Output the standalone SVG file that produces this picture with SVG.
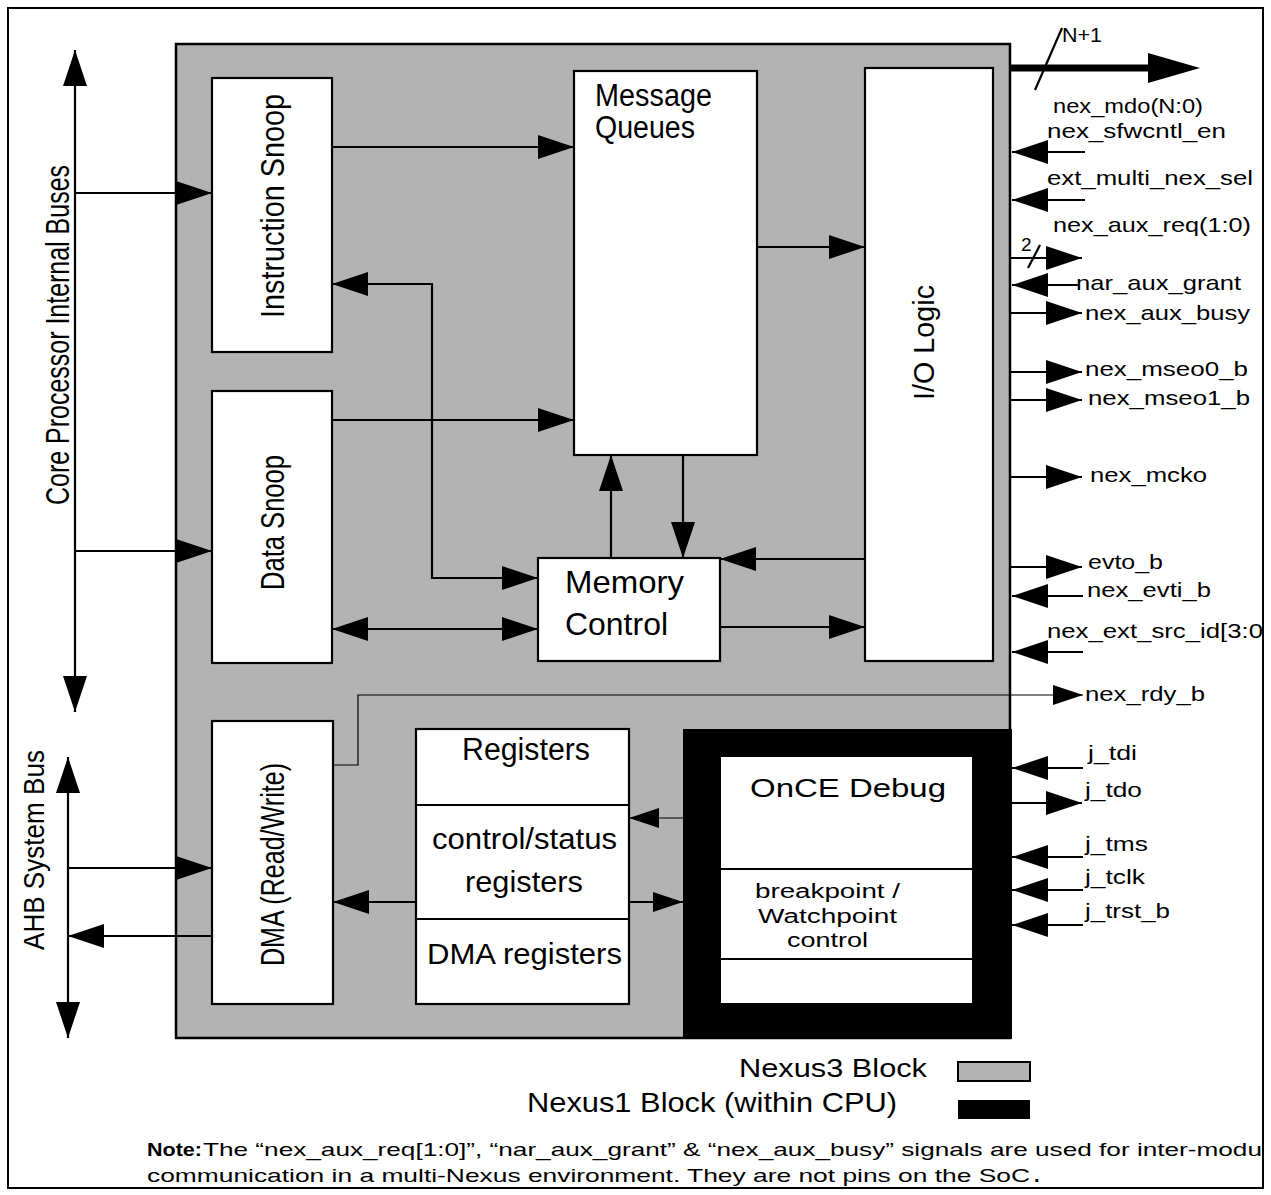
<svg xmlns="http://www.w3.org/2000/svg" width="1271" height="1195" viewBox="0 0 1271 1195">
<style>
text{font-family:"Liberation Sans",Arial,Helvetica,sans-serif;fill:#000}
.box{fill:#fff;stroke:#000;stroke-width:2.2}
.c{fill:none;stroke:#000;stroke-width:2.2}
.t{fill:none;stroke:#000;stroke-width:1.2}
.sig{font-size:21px}
</style>
<defs>
<marker id="ah" viewBox="0 0 36 24" refX="36" refY="12" markerWidth="36" markerHeight="24" markerUnits="userSpaceOnUse" orient="auto-start-reverse"><path d="M0,0 L36,12 L0,24 z" fill="#000"/></marker>
<marker id="ahs" viewBox="0 0 30 20" refX="30" refY="10" markerWidth="30" markerHeight="20" markerUnits="userSpaceOnUse" orient="auto-start-reverse"><path d="M0,0 L30,10 L0,20 z" fill="#000"/></marker>
</defs>
<rect x="8" y="8" width="1255" height="1180" fill="#fff" stroke="#000" stroke-width="2"/>
<g id="nexus3-block"><rect x="176" y="44" width="834" height="994" fill="#b3b3b3" stroke="#000" stroke-width="2.5"/></g>
<g id="nexus1-block"><rect x="683" y="729" width="329" height="310" fill="#000"/></g>
<g id="instruction-snoop"><rect class="box" x="212" y="78" width="120" height="274"/>
<text transform="translate(284,318) rotate(-90)" font-size="33" textLength="224" lengthAdjust="spacingAndGlyphs">Instruction Snoop</text></g>
<g id="data-snoop"><rect class="box" x="212" y="391" width="120" height="272"/>
<text transform="translate(284,590) rotate(-90)" font-size="33" textLength="135" lengthAdjust="spacingAndGlyphs">Data Snoop</text></g>
<g id="dma"><rect class="box" x="212" y="721" width="121" height="283"/>
<text transform="translate(284,966) rotate(-90)" font-size="33" textLength="203" lengthAdjust="spacingAndGlyphs">DMA (Read/Write)</text></g>
<g id="message-queues"><rect class="box" x="574" y="71" width="183" height="384"/>
<text x="595" y="106" font-size="31" textLength="117" lengthAdjust="spacingAndGlyphs">Message</text>
<text x="595" y="138" font-size="31" textLength="100" lengthAdjust="spacingAndGlyphs">Queues</text></g>
<g id="io-logic"><rect class="box" x="865" y="68" width="128" height="593"/>
<text transform="translate(934,400) rotate(-90)" font-size="30" textLength="115" lengthAdjust="spacingAndGlyphs">I/O Logic</text></g>
<g id="memory-control"><rect class="box" x="538" y="558" width="182" height="103"/>
<text x="565" y="593" font-size="32" textLength="119" lengthAdjust="spacingAndGlyphs">Memory</text>
<text x="565" y="635" font-size="32" textLength="103" lengthAdjust="spacingAndGlyphs">Control</text></g>
<g id="registers"><rect class="box" x="416" y="729" width="213" height="275"/>
<line class="c" x1="416" y1="805" x2="629" y2="805"/><line class="c" x1="416" y1="919" x2="629" y2="919"/>
<text x="462" y="760" font-size="31" textLength="128" lengthAdjust="spacingAndGlyphs">Registers</text>
<text x="432" y="849" font-size="30" textLength="185" lengthAdjust="spacingAndGlyphs">control/status</text>
<text x="465" y="892" font-size="30" textLength="118" lengthAdjust="spacingAndGlyphs">registers</text>
<text x="427" y="964" font-size="30" textLength="195" lengthAdjust="spacingAndGlyphs">DMA registers</text></g>
<g id="once-debug"><rect x="721" y="757" width="251" height="246" fill="#fff"/>
<line class="c" x1="721" y1="869" x2="972" y2="869"/><line class="c" x1="721" y1="959" x2="972" y2="959"/>
<text x="750" y="797" font-size="25" textLength="196" lengthAdjust="spacingAndGlyphs">OnCE Debug</text>
<text x="755" y="898" font-size="20" textLength="145" lengthAdjust="spacingAndGlyphs">breakpoint /</text>
<text x="758" y="923" font-size="20" textLength="139" lengthAdjust="spacingAndGlyphs">Watchpoint</text>
<text x="787" y="947" font-size="20" textLength="81" lengthAdjust="spacingAndGlyphs">control</text></g>
<g id="connectors">
<line class="c" x1="75" y1="50" x2="75" y2="712" marker-start="url(#ah)" marker-end="url(#ah)"/>
<line class="c" x1="75" y1="193" x2="212" y2="193" marker-end="url(#ah)"/>
<line class="c" x1="75" y1="551" x2="212" y2="551" marker-end="url(#ah)"/>
<line class="c" x1="68" y1="757" x2="68" y2="1038" marker-start="url(#ah)" marker-end="url(#ah)"/>
<line class="c" x1="68" y1="868" x2="212" y2="868" marker-end="url(#ah)"/>
<line class="c" x1="212" y1="936" x2="68" y2="936" marker-end="url(#ah)"/>
<line class="c" x1="332" y1="147" x2="574" y2="147" marker-end="url(#ah)"/>
<line class="c" x1="332" y1="420" x2="574" y2="420" marker-end="url(#ah)"/>
<path class="c" d="M332,284 H432 V578 H538" marker-start="url(#ah)" marker-end="url(#ah)"/>
<line class="c" x1="332" y1="629" x2="538" y2="629" marker-start="url(#ah)" marker-end="url(#ah)"/>
<line class="c" x1="611" y1="558" x2="611" y2="455" marker-end="url(#ah)"/>
<line class="c" x1="683" y1="455" x2="683" y2="558" marker-end="url(#ah)"/>
<line class="c" x1="757" y1="247" x2="865" y2="247" marker-end="url(#ah)"/>
<line class="c" x1="865" y1="559" x2="720" y2="559" marker-end="url(#ah)"/>
<line class="c" x1="720" y1="627" x2="865" y2="627" marker-end="url(#ah)"/>
<line class="c" x1="416" y1="902" x2="333" y2="902" marker-end="url(#ah)"/>
<line class="c" x1="629" y1="902" x2="683" y2="902" marker-end="url(#ahs)"/>
<line class="t" x1="683" y1="818" x2="629" y2="818" marker-end="url(#ahs)"/>
<path class="t" d="M333,765 H358 V695 H1083" marker-end="url(#ahs)"/>
<line x1="1010" y1="68" x2="1150" y2="68" stroke="#000" stroke-width="7"/>
<polygon points="1148,53 1200,68 1148,83" fill="#000"/>
<line class="c" x1="1035" y1="90" x2="1062" y2="28" stroke-width="1.8"/>
<line class="c" x1="1085" y1="152" x2="1012" y2="152" marker-end="url(#ah)"/>
<line class="c" x1="1085" y1="200" x2="1012" y2="200" marker-end="url(#ah)"/>
<line class="c" x1="1010" y1="258" x2="1082" y2="258" marker-end="url(#ah)"/>
<line class="c" x1="1028" y1="268" x2="1040" y2="245" stroke-width="1.8"/>
<line class="c" x1="1080" y1="285" x2="1012" y2="285" marker-end="url(#ah)"/>
<line class="c" x1="1010" y1="313" x2="1082" y2="313" marker-end="url(#ah)"/>
<line class="c" x1="1010" y1="372" x2="1082" y2="372" marker-end="url(#ah)"/>
<line class="c" x1="1010" y1="400" x2="1082" y2="400" marker-end="url(#ah)"/>
<line class="c" x1="1010" y1="477" x2="1082" y2="477" marker-end="url(#ah)"/>
<line class="c" x1="1010" y1="567" x2="1082" y2="567" marker-end="url(#ah)"/>
<line class="c" x1="1083" y1="596" x2="1012" y2="596" marker-end="url(#ah)"/>
<line class="c" x1="1083" y1="652" x2="1012" y2="652" marker-end="url(#ah)"/>
<line class="c" x1="1083" y1="768" x2="1012" y2="768" marker-end="url(#ah)"/>
<line class="c" x1="1010" y1="803" x2="1082" y2="803" marker-end="url(#ah)"/>
<line class="c" x1="1083" y1="857" x2="1012" y2="857" marker-end="url(#ah)"/>
<line class="c" x1="1083" y1="890" x2="1012" y2="890" marker-end="url(#ah)"/>
<line class="c" x1="1083" y1="925" x2="1012" y2="925" marker-end="url(#ah)"/>
</g>
<g id="bus-labels">
<text transform="translate(69,505) rotate(-90)" font-size="34" textLength="340" lengthAdjust="spacingAndGlyphs">Core Processor Internal Buses</text>
<text transform="translate(44,950) rotate(-90)" font-size="30" textLength="200" lengthAdjust="spacingAndGlyphs">AHB System Bus</text>
</g>
<g id="signal-labels" class="sig">
<text x="1062" y="42" font-size="21" textLength="40" lengthAdjust="spacingAndGlyphs">N+1</text>
<text x="1053" y="113" textLength="150" lengthAdjust="spacingAndGlyphs">nex_mdo(N:0)</text>
<text x="1047" y="138" textLength="179" lengthAdjust="spacingAndGlyphs">nex_sfwcntl_en</text>
<text x="1047" y="185" textLength="206" lengthAdjust="spacingAndGlyphs">ext_multi_nex_sel</text>
<text x="1053" y="232" textLength="198" lengthAdjust="spacingAndGlyphs">nex_aux_req(1:0)</text>
<text x="1021" y="251" font-size="19">2</text>
<text x="1076" y="290" textLength="165" lengthAdjust="spacingAndGlyphs">nar_aux_grant</text>
<text x="1085" y="320" textLength="165" lengthAdjust="spacingAndGlyphs">nex_aux_busy</text>
<text x="1085" y="376" textLength="163" lengthAdjust="spacingAndGlyphs">nex_mseo0_b</text>
<text x="1088" y="405" textLength="162" lengthAdjust="spacingAndGlyphs">nex_mseo1_b</text>
<text x="1090" y="482" textLength="117" lengthAdjust="spacingAndGlyphs">nex_mcko</text>
<text x="1088" y="569" textLength="75" lengthAdjust="spacingAndGlyphs">evto_b</text>
<text x="1087" y="597" textLength="124" lengthAdjust="spacingAndGlyphs">nex_evti_b</text>
<text x="1047" y="638" textLength="216" lengthAdjust="spacingAndGlyphs">nex_ext_src_id[3:0</text>
<text x="1085" y="701" textLength="120" lengthAdjust="spacingAndGlyphs">nex_rdy_b</text>
<text x="1088" y="760" textLength="49" lengthAdjust="spacingAndGlyphs">j_tdi</text>
<text x="1085" y="797" textLength="57" lengthAdjust="spacingAndGlyphs">j_tdo</text>
<text x="1085" y="851" textLength="63" lengthAdjust="spacingAndGlyphs">j_tms</text>
<text x="1085" y="884" textLength="60" lengthAdjust="spacingAndGlyphs">j_tclk</text>
<text x="1085" y="918" textLength="85" lengthAdjust="spacingAndGlyphs">j_trst_b</text>
</g>
<g id="legend">
<text x="739" y="1077" font-size="25" textLength="188" lengthAdjust="spacingAndGlyphs">Nexus3 Block</text>
<rect x="958" y="1062" width="72" height="19" fill="#b3b3b3" stroke="#000" stroke-width="2"/>
<text x="527" y="1112" font-size="28" textLength="370" lengthAdjust="spacingAndGlyphs">Nexus1 Block (within CPU)</text>
<rect x="958" y="1100" width="72" height="19" fill="#000"/>
</g>
<g id="note">
<text x="147" y="1156" font-size="19" font-weight="bold" textLength="55" lengthAdjust="spacingAndGlyphs">Note:</text>
<text x="203" y="1156" font-size="19" textLength="1059" lengthAdjust="spacingAndGlyphs">The “nex_aux_req[1:0]”, “nar_aux_grant” &amp; “nex_aux_busy” signals are used for inter-modu</text>
<text x="147" y="1182" font-size="19" textLength="883" lengthAdjust="spacingAndGlyphs">communication in a multi-Nexus environment. They are not pins on the SoC</text>
<text x="1034" y="1182" font-size="20" font-weight="bold">.</text>
</g>
</svg>
